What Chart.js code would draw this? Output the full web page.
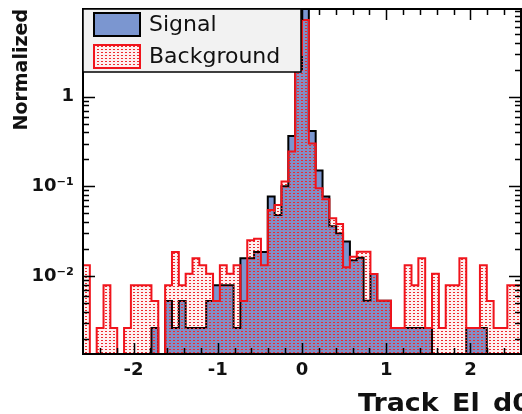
<!DOCTYPE html>
<html>
<head>
<meta charset="utf-8">
<script src="https://cdn.jsdelivr.net/npm/chart.js@4.4.0/dist/chart.umd.min.js"></script>
<style>
  html, body { margin: 0; padding: 0; background: #fff; }
</style>
</head>
<body>
<canvas id="histo" width="522" height="414"></canvas>
<script>
// binning: 64 bins between -2.6 and 2.6
var xMin = -2.6, xMax = 2.6, nBins = 64;
var xTicks = [-2, -1, 0, 1, 2];
var yTicks = [0.01, 0.1, 1];
var yTickLabels = ['10⁻²', '10⁻¹', '1'];
var seriesNames = ['Signal', 'Background'];
var xTitle = 'Track_El_d0';
var yTitle = 'Normalized';

// normalized bin contents (left to right)
var signal = [
  0, 0, 0, 0, 0, 0, 0, 0, 0, 0,
  0.00264, 0, 0.00528, 0.00264, 0.00528, 0.00264, 0.00264, 0.00264, 0.00528, 0.0079,
  0.0079, 0.0079, 0.00264, 0.0158, 0.0158, 0.0185, 0.0185, 0.077, 0.048, 0.1,
  0.364, 2.0, 12, 0.414, 0.15, 0.077, 0.036, 0.03, 0.0242, 0.015,
  0.016, 0.0053, 0.0105, 0.0053, 0.0053, 0.00264, 0.00264, 0.00264, 0.00264, 0.00264,
  0.00264, 0, 0, 0, 0, 0, 0.00264, 0.00264, 0.00264, 0,
  0, 0, 0, 0
];
var background = [
  0.0132, 0, 0.00264, 0.0079, 0.00264, 0, 0.00264, 0.0079, 0.0079, 0.0079,
  0.00528, 0, 0.0079, 0.0185, 0.0079, 0.0106, 0.0158, 0.0132, 0.0106, 0.00528,
  0.0132, 0.0106, 0.0132, 0.00528, 0.025, 0.026, 0.0132, 0.0545, 0.062, 0.113,
  0.244, 3.0, 7.16, 0.30, 0.095, 0.072, 0.044, 0.038, 0.0125, 0.0164,
  0.0187, 0.0187, 0.0105, 0.0053, 0.0053, 0.00264, 0.00264, 0.0132, 0.0079, 0.0158,
  0.00264, 0.0106, 0.00264, 0.0079, 0.0079, 0.0158, 0.00264, 0.00264, 0.0132, 0.00528,
  0.00264, 0.00264, 0.0079, 0.0079
];

var binWidth = (xMax - xMin) / nBins;
var yMin = 0.00135, yMax = 9.5;
var emptyBin = 1e-4; // below the axis, so empty bins drop to the frame

// stepped outline: one point per bin low edge, plus the last upper edge
function histPoints(vals) {
  var pts = [];
  for (var i = 0; i < vals.length; i++) {
    pts.push({ x: xMin + i * binWidth, y: vals[i] > 0 ? vals[i] : emptyBin });
  }
  pts.push({ x: xMax, y: pts[pts.length - 1].y });
  return pts;
}

// red dotted hatch like the ROOT fill style
function dotPattern(bg) {
  var c = document.createElement('canvas');
  c.width = 4; c.height = 3;
  var g = c.getContext('2d');
  if (bg) { g.fillStyle = bg; g.fillRect(0, 0, 4, 3); }
  g.fillStyle = 'rgba(240, 40, 44, 0.07)';
  g.fillRect(0, 0, 4, 3);
  g.fillStyle = '#ee2a2e';
  g.fillRect(1, 1, 2, 1);
  return g.createPattern(c, 'repeat');
}

var blue = '#7b96d0';
var txt = '#111';

var frameTicks = {
  id: 'frameTicks',
  afterDatasetsDraw: function(chart) {
    var ctx = chart.ctx, a = chart.chartArea;
    var xs = chart.scales.x, ys = chart.scales.y;
    ctx.save();
    ctx.strokeStyle = '#000';
    ctx.lineWidth = 1.5;
    ctx.beginPath();
    for (var i = -12; i <= 12; i++) {
      var px = Math.round(xs.getPixelForValue(i * 0.2)) + 0.5;
      var len = (i % 5 === 0) ? 11 : 6;
      ctx.moveTo(px, a.bottom); ctx.lineTo(px, a.bottom - len);
      ctx.moveTo(px, a.top); ctx.lineTo(px, a.top + len);
    }
    for (var d = -3; d <= 0; d++) {
      for (var m = 1; m <= 9; m++) {
        var v = m * Math.pow(10, d);
        if (v <= yMin || v >= yMax) continue;
        var py = Math.round(ys.getPixelForValue(v)) + 0.5;
        var l = (m === 1) ? 12 : 6;
        ctx.moveTo(a.left, py); ctx.lineTo(a.left + l, py);
        ctx.moveTo(a.right, py); ctx.lineTo(a.right - l, py);
      }
    }
    ctx.stroke();
    ctx.lineWidth = 2;
    ctx.strokeRect(a.left, a.top, a.right - a.left, a.bottom - a.top);
    ctx.restore();
  },
  afterDraw: function(chart) {
    var ctx = chart.ctx, a = chart.chartArea;
    ctx.save();
    // legend box in the top left corner
    var lx = a.left, ly = a.top, lw = 218, lh = 63;
    ctx.fillStyle = '#f2f2f2';
    ctx.fillRect(lx, ly, lw, lh);
    ctx.strokeStyle = '#000';
    ctx.lineWidth = 1.5;
    ctx.strokeRect(lx, ly, lw, lh);

    ctx.lineWidth = 2;
    ctx.fillStyle = blue;
    ctx.fillRect(lx + 11, ly + 4, 46, 23);
    ctx.strokeStyle = '#000';
    ctx.strokeRect(lx + 11, ly + 4, 46, 23);

    ctx.fillStyle = dotPattern('#fff');
    ctx.fillRect(lx + 11, ly + 36, 46, 23);
    ctx.strokeStyle = '#f0141c';
    ctx.strokeRect(lx + 11, ly + 36, 46, 23);

    ctx.fillStyle = txt;
    ctx.font = '22px "DejaVu Sans"';
    ctx.textBaseline = 'middle';
    ctx.textAlign = 'left';
    ctx.fillText(seriesNames[0], lx + 66, ly + 16);
    ctx.fillText(seriesNames[1], lx + 66, ly + 48);

    // x axis title, right of centre and running off the edge like the original
    ctx.font = 'bold 24px "DejaVu Sans"';
    ctx.textBaseline = 'alphabetic';
    ctx.translate(358, 411);
    ctx.scale(1.12, 1);
    ctx.fillText(xTitle, 0, 0);
    ctx.restore();
  }
};

var ctx = document.getElementById('histo').getContext('2d');
var chart = new Chart(ctx, {
  type: 'line',
  data: {
    datasets: [{
      label: seriesNames[0],
      data: histPoints(signal),
      stepped: 'before',
      borderColor: '#000',
      borderWidth: 2,
      backgroundColor: blue,
      fill: 'start',
      pointRadius: 0,
      order: 2
    }, {
      label: seriesNames[1],
      data: histPoints(background),
      stepped: 'before',
      borderColor: '#f0141c',
      borderWidth: 2,
      backgroundColor: dotPattern(null),
      fill: 'start',
      pointRadius: 0,
      order: 1
    }]
  },
  options: {
    responsive: false,
    animation: false,
    layout: { padding: { top: 9, right: 1, left: 0, bottom: 0 } },
    plugins: {
      legend: { display: false },
      tooltip: { enabled: false }
    },
    scales: {
      x: {
        type: 'linear',
        min: xMin,
        max: xMax,
        grid: { display: false, drawTicks: false },
        border: { display: false },
        afterBuildTicks: function(scale) {
          scale.ticks = xTicks.map(function(v) { return { value: v }; });
        },
        afterFit: function(scale) {
          scale.height = 60;
          scale.paddingLeft = 0; scale.paddingRight = 0;
        },
        ticks: {
          padding: 6,
          maxRotation: 0,
          color: txt,
          font: { family: 'DejaVu Sans', weight: 'bold', size: 18 }
        }
      },
      y: {
        type: 'logarithmic',
        min: yMin,
        max: yMax,
        grid: { display: false, drawTicks: false },
        border: { display: false },
        afterBuildTicks: function(scale) {
          scale.ticks = yTicks.map(function(v) { return { value: v }; });
        },
        afterFit: function(scale) {
          scale.width = 83;
          scale.paddingTop = 0; scale.paddingBottom = 0;
        },
        ticks: {
          padding: 9,
          color: txt,
          font: { family: 'DejaVu Sans', weight: 'bold', size: 18 },
          callback: function(value) { return yTickLabels[yTicks.indexOf(value)]; }
        },
        title: {
          display: true,
          text: yTitle,
          align: 'end',
          color: txt,
          font: { family: 'DejaVu Sans', weight: 'bold', size: 19 },
          padding: { top: 11, bottom: 0 }
        }
      }
    }
  },
  plugins: [frameTicks]
});
</script>
</body>
</html>
